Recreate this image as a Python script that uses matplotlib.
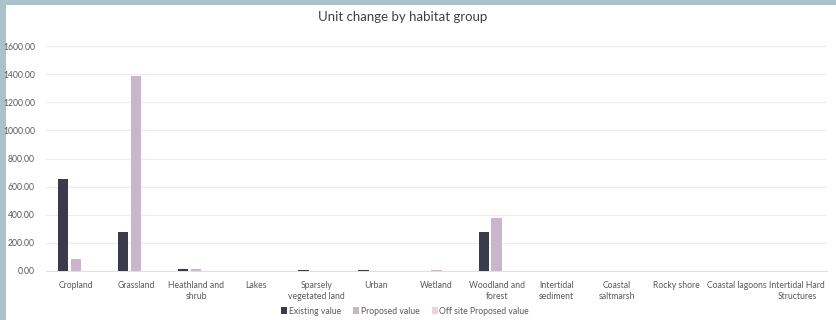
import matplotlib
matplotlib.use("Agg")
import matplotlib.pyplot as plt
import numpy as np
from matplotlib.patches import Rectangle

categories = ["Cropland", "Grassland", "Heathland and\nshrub", "Lakes", "Sparsely\nvegetated land",
              "Urban", "Wetland", "Woodland and\nforest", "Intertidal\nsediment", "Coastal\nsaltmarsh",
              "Rocky shore", "Coastal lagoons", "Intertidal Hard\nStructures"]
existing = [655, 275, 12, 0, 5, 8, 0, 280, 0, 0, 0, 0, 0]
proposed = [85, 1385, 16, 0, 0, 3, 7, 380, 0, 0, 0, 0, 0]
offsite = [0, 0, 0, 0, 0, 0, 0, 0, 0, 0, 0, 0, 0]
series_names = ["Existing value", "Proposed value", "Off site Proposed value"]
colors = ["#3b3a4b", "#c9b6cb", "#f3cfdc"]
yticks = [0, 200, 400, 600, 800, 1000, 1200, 1400, 1600]

plt.rcParams['font.family'] = ['Lato', 'DejaVu Sans']
W, H = 836, 320
fig = plt.figure(figsize=(W/100, H/100), dpi=100)
fig.patch.set_facecolor("white")
border = "#a9c3c9"
fig.patches.append(Rectangle((0, 0), 6/W, 1, transform=fig.transFigure,
                             facecolor=border, edgecolor="none", zorder=-10))
fig.patches.append(Rectangle((0, 1-5/H), 1, 5/H, transform=fig.transFigure,
                             facecolor=border, edgecolor="none", zorder=-10))

ax = fig.add_axes([46/W, 1-271/H, (827-46)/W, (271-46)/H])
ax.set_facecolor("none")
x = np.arange(len(categories))
bw = 0.17
off = 0.215
for i, (vals, c, n) in enumerate(zip([existing, proposed, offsite], colors, series_names)):
    ax.bar(x + (i-1)*off, vals, width=bw, color=c, label=n, zorder=3)

ax.set_xlim(-0.5, len(categories)-0.5)
ax.set_ylim(0, 1600)
ax.set_yticks(yticks)
ax.set_yticklabels([f"{v:.2f}" for v in yticks])
ax.yaxis.grid(True, color="#ececec", linewidth=0.8, zorder=0)
ax.set_xticks(x)
ax.set_xticklabels(categories, linespacing=1.3)
ax.tick_params(axis='both', length=0, labelsize=6.2, colors="#595959")
ax.tick_params(axis='x', pad=7)
ax.tick_params(axis='y', pad=8)
for s in ["top", "right", "left"]:
    ax.spines[s].set_visible(False)
ax.spines["bottom"].set_color("#e0e0e0")

fig.text(403/W, 1-17/H, "Unit change by habitat group", ha="center", va="center",
         fontsize=9.5, color="#404040")

leg = fig.legend(loc="center", bbox_to_anchor=(405/W, 1-311/H), ncol=3, frameon=False,
                 fontsize=6.2, handlelength=0.7, handleheight=0.7, handletextpad=0.2,
                 columnspacing=1.4, labelcolor="#595959")

fig.savefig("out.png", dpi=100)
